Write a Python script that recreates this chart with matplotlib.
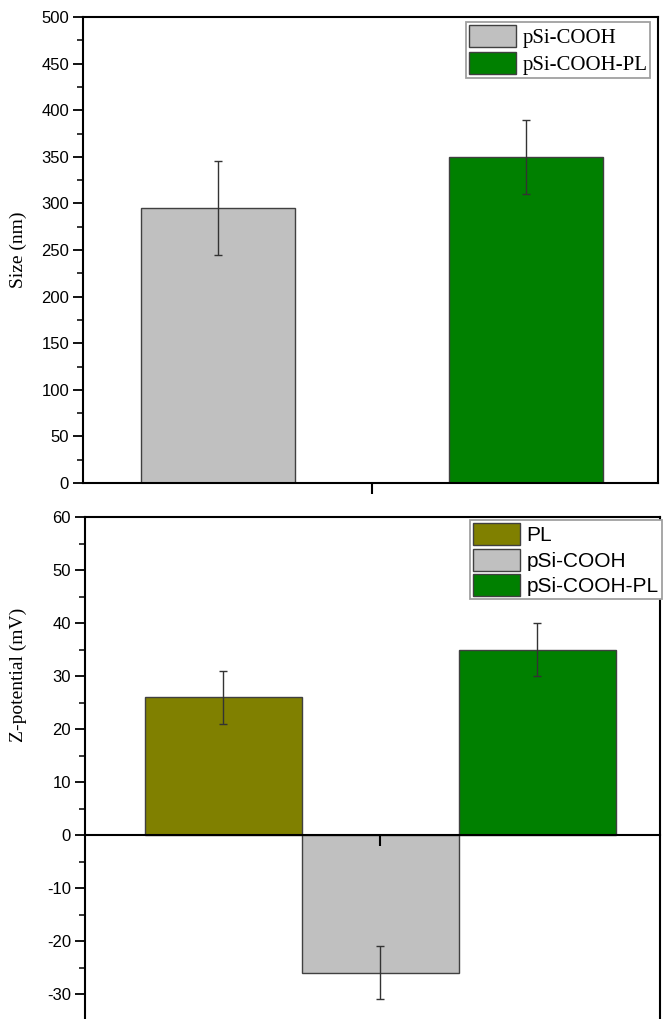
import matplotlib
matplotlib.use("Agg")
import matplotlib.pyplot as plt
from matplotlib.ticker import MultipleLocator, AutoMinorLocator

plt.rcParams["axes.unicode_minus"] = False

# top panel: particle size
size_labels = ["pSi-COOH", "pSi-COOH-PL"]
size_values = [295, 350]
size_errors = [50, 40]
size_colors = ["#c0c0c0", "#008000"]

# bottom panel: zeta potential
zeta_labels = ["PL", "pSi-COOH", "pSi-COOH-PL"]
zeta_values = [26, -26, 35]
zeta_errors = [5, 5, 5]
zeta_colors = ["#808000", "#c0c0c0", "#008000"]

W, H = 666, 1019
fig = plt.figure(figsize=(W / 100, H / 100), dpi=100)

ax1 = fig.add_axes([83 / W, 1 - 483 / H, 575 / W, 466 / H])
ax2 = fig.add_axes([85 / W, 0, 575 / W, 1 - 517 / H])

tick_font = dict(family="Liberation Sans", size=12)


def style_axis(ax):
    for s in ax.spines.values():
        s.set_linewidth(1.5)
    ax.tick_params(axis="y", which="major", direction="out", length=7, width=1.3,
                   pad=3, right=False)
    ax.tick_params(axis="y", which="minor", direction="out", length=4, width=1.1,
                   right=False)
    ax.tick_params(axis="x", which="major", direction="out", length=8, width=1.5,
                   top=False, labelbottom=False)
    for lab in ax.get_yticklabels():
        lab.set_fontfamily(tick_font["family"])
        lab.set_fontsize(tick_font["size"])


# --- size panel
x1 = [1, 2]
bars1 = ax1.bar(x1, size_values, width=0.5, color=size_colors,
                edgecolor="#404040", linewidth=1.0, label=size_labels)
ax1.errorbar(x1, size_values, yerr=size_errors, fmt="none", ecolor="#333333",
             elinewidth=1.0, capsize=3.2, capthick=1.0)
ax1.set_xlim(0.56, 2.43)
ax1.set_ylim(0, 500)
ax1.yaxis.set_major_locator(MultipleLocator(50))
ax1.yaxis.set_minor_locator(AutoMinorLocator(2))
ax1.set_xticks([1.5])
style_axis(ax1)
ax1.set_ylabel("Size (nm)", family="Liberation Serif", size=14)
ax1.yaxis.set_label_coords(-0.097, 0.5)

leg1 = ax1.legend(bars1.patches, size_labels, loc="upper left",
                  bbox_to_anchor=(466 / W, 1 - 22 / H), bbox_transform=fig.transFigure,
                  borderaxespad=0, prop=dict(family="Liberation Serif", size=15),
                  handlelength=2.25, handleheight=1.25, labelspacing=0.17,
                  handletextpad=0.3, borderpad=0.15, fancybox=False, framealpha=1)
leg1.get_frame().set_edgecolor("#a0a0a0")
leg1.get_frame().set_linewidth(1.3)

# --- zeta potential panel
x2 = [1, 2, 3]
bars2 = ax2.bar(x2, zeta_values, width=1.0, color=zeta_colors,
                edgecolor="#404040", linewidth=1.0)
ax2.errorbar(x2, zeta_values, yerr=zeta_errors, fmt="none", ecolor="#333333",
             elinewidth=1.0, capsize=3, capthick=1.0)
ax2.set_xlim(0.12, 3.78)
ax2.set_ylim(-34.7, 60)
ax2.yaxis.set_major_locator(MultipleLocator(10))
ax2.yaxis.set_minor_locator(AutoMinorLocator(2))
ax2.set_xticks([2])
ax2.spines["bottom"].set_position(("data", 0))
style_axis(ax2)
ax2.set_ylabel("Z-potential (mV)", family="Liberation Serif", size=14)
ax2.yaxis.set_label_coords(-0.1, 0.685)

leg2 = ax2.legend(bars2.patches, zeta_labels, loc="upper left",
                  bbox_to_anchor=(470 / W, 1 - 520 / H), bbox_transform=fig.transFigure,
                  borderaxespad=0, prop=dict(family="Liberation Sans", size=15),
                  handlelength=2.25, handleheight=1.25, labelspacing=0.17,
                  handletextpad=0.3, borderpad=0.15, fancybox=False, framealpha=1)
leg2.get_frame().set_edgecolor("#a0a0a0")
leg2.get_frame().set_linewidth(1.3)

fig.savefig("out.png", dpi=100)
